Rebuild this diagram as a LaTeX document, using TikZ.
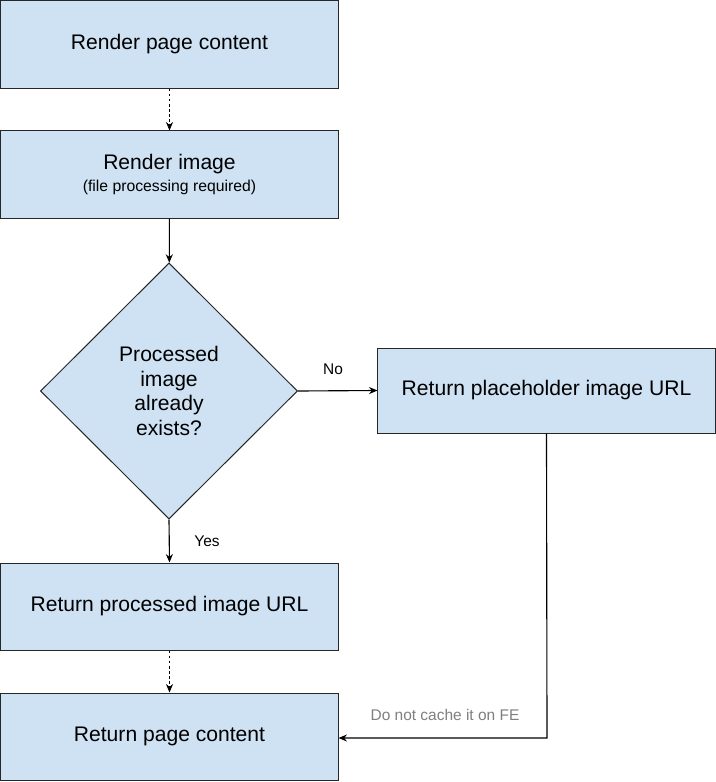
\documentclass[tikz,border=0pt]{standalone}
\usepackage{fontspec}
\setmainfont{Liberation Sans}
\usetikzlibrary{shapes.geometric,positioning,arrows.meta}
\definecolor{boxblue}{HTML}{CFE2F3}
\definecolor{labelgray}{HTML}{7F7F7F}

\begin{document}
\begin{tikzpicture}
[x=0.025cm,y=-0.025cm,>={Stealth[length=6pt,width=5pt]},
stepbox/.style = {draw=black!85, fill = boxblue, line width=0.7pt, minimum width=8.425cm, minimum height=2.175cm, inner sep=0pt, align=center, font=\fontsize{15}{18}\selectfont},
decision/.style = {draw=black!85, fill = boxblue, line width=0.7pt, diamond, minimum width=6.425cm, minimum height=6.4cm, inner sep=0pt, align=center, font=\fontsize{15}{17.5}\selectfont},
flow/.style = {->, line width=0.8pt},
dotflow/.style = {->, line width=0.6pt, dash pattern=on 2pt off 1.6pt},
edgelabel/.style = {font=\fontsize{11}{13}\selectfont},]
\useasboundingbox (0,0) rectangle (716,782);
\node (render) at (169.5,44.5)[stepbox] {Render page content};
\node (image) at (169.5,174.5)[stepbox] {Render image\\[-2pt]{\fontsize{11.2}{13}\selectfont(file processing required)}};
\node (exists) at (169,391)[decision] {Processed\\image\\already\\exists?};
\node (placeholder) at (546.5,390.5)[stepbox, minimum height=2.125cm] {Return placeholder image URL};
\node (processed) at (169.5,606.5)[stepbox] {Return processed image URL};
\node (content) at (169.5,736.5)[stepbox] {Return page content};
\coordinate (corner) at (547,738);
\draw[dotflow] (render)--(image);
\draw[flow] (image)--(exists);
\draw[flow] (exists.east)--(placeholder.west);
\draw[flow] (exists.south)--(processed.north);
\draw[dotflow] (processed)--(content);
\draw[flow] (placeholder.south)--(corner)--(content.east |- corner);
\node (no) at (333,369)[edgelabel] {No};
\node (yes) at (207,541)[edgelabel] {Yes};
\node (nocache) at (445,715)[edgelabel, text=labelgray] {Do not cache it on FE};
\end{tikzpicture}
\end{document}
